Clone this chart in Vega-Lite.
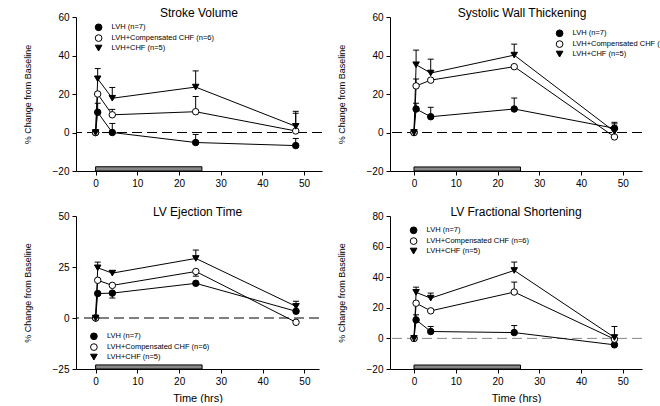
{
  "$schema": "https://vega.github.io/schema/vega-lite/v6.json",
  "padding": {"left": 23, "top": 7, "right": 0, "bottom": 0},
  "config": {
    "view": {"stroke": null},
    "font": "Liberation Sans",
    "axis": {"grid": false, "domainColor": "black", "tickColor": "black", "labelColor": "black", "titleColor": "black", "labelFont": "Liberation Sans", "titleFont": "Liberation Sans", "labelFontSize": 10, "tickSize": 4, "titleFontWeight": "normal", "labelFlush": false, "labelOverlap": false, "domainWidth": 1, "tickWidth": 1, "tickCount": 20},
    "title": {"font": "Liberation Sans", "fontSize": 12, "fontWeight": "normal", "color": "black", "frame": "group", "offset": -8, "baseline": "alphabetic"},
    "legend": {"orient": "none", "symbolSize": 45, "symbolStrokeWidth": 1, "labelFont": "Liberation Sans", "labelFontSize": 7.5, "labelColor": "black", "labelOffset": 9, "rowPadding": -1.2, "padding": 0, "symbolOpacity": 1}
  },
  "datasets": {
    "pts": [
      {"p": "SV", "g": "LVH (n=7)", "t": 0, "v": 0},
      {"p": "SV", "g": "LVH (n=7)", "t": 0.5, "v": 10.5},
      {"p": "SV", "g": "LVH (n=7)", "t": 4, "v": 0},
      {"p": "SV", "g": "LVH (n=7)", "t": 24, "v": -5.2},
      {"p": "SV", "g": "LVH (n=7)", "t": 48, "v": -6.8},
      {"p": "SV", "g": "LVH+Compensated CHF (n=6)", "t": 0, "v": 0},
      {"p": "SV", "g": "LVH+Compensated CHF (n=6)", "t": 0.5, "v": 20},
      {"p": "SV", "g": "LVH+Compensated CHF (n=6)", "t": 4, "v": 9.2},
      {"p": "SV", "g": "LVH+Compensated CHF (n=6)", "t": 24, "v": 10.8},
      {"p": "SV", "g": "LVH+Compensated CHF (n=6)", "t": 48, "v": 0.8},
      {"p": "SV", "g": "LVH+CHF (n=5)", "t": 0, "v": 0},
      {"p": "SV", "g": "LVH+CHF (n=5)", "t": 0.5, "v": 27.9},
      {"p": "SV", "g": "LVH+CHF (n=5)", "t": 4, "v": 17.8},
      {"p": "SV", "g": "LVH+CHF (n=5)", "t": 24, "v": 23.6},
      {"p": "SV", "g": "LVH+CHF (n=5)", "t": 48, "v": 3.2},
      {"p": "SWT", "g": "LVH (n=7)", "t": 0, "v": 0},
      {"p": "SWT", "g": "LVH (n=7)", "t": 0.5, "v": 12.2},
      {"p": "SWT", "g": "LVH (n=7)", "t": 4, "v": 8.2},
      {"p": "SWT", "g": "LVH (n=7)", "t": 24, "v": 12.2},
      {"p": "SWT", "g": "LVH (n=7)", "t": 48, "v": 2.2},
      {"p": "SWT", "g": "LVH+Compensated CHF (n=6)", "t": 0, "v": 0},
      {"p": "SWT", "g": "LVH+Compensated CHF (n=6)", "t": 0.5, "v": 24.2},
      {"p": "SWT", "g": "LVH+Compensated CHF (n=6)", "t": 4, "v": 27.2},
      {"p": "SWT", "g": "LVH+Compensated CHF (n=6)", "t": 24, "v": 34.2},
      {"p": "SWT", "g": "LVH+Compensated CHF (n=6)", "t": 48, "v": -2.3},
      {"p": "SWT", "g": "LVH+CHF (n=5)", "t": 0, "v": 0},
      {"p": "SWT", "g": "LVH+CHF (n=5)", "t": 0.5, "v": 35.2},
      {"p": "SWT", "g": "LVH+CHF (n=5)", "t": 4, "v": 30.9},
      {"p": "SWT", "g": "LVH+CHF (n=5)", "t": 24, "v": 40.2},
      {"p": "SWT", "g": "LVH+CHF (n=5)", "t": 48, "v": 0.5},
      {"p": "ET", "g": "LVH (n=7)", "t": 0, "v": 0},
      {"p": "ET", "g": "LVH (n=7)", "t": 0.5, "v": 12},
      {"p": "ET", "g": "LVH (n=7)", "t": 4, "v": 12.2},
      {"p": "ET", "g": "LVH (n=7)", "t": 24, "v": 17},
      {"p": "ET", "g": "LVH (n=7)", "t": 48, "v": 3.3},
      {"p": "ET", "g": "LVH+Compensated CHF (n=6)", "t": 0, "v": 0},
      {"p": "ET", "g": "LVH+Compensated CHF (n=6)", "t": 0.5, "v": 18.5},
      {"p": "ET", "g": "LVH+Compensated CHF (n=6)", "t": 4, "v": 16},
      {"p": "ET", "g": "LVH+Compensated CHF (n=6)", "t": 24, "v": 22.8},
      {"p": "ET", "g": "LVH+Compensated CHF (n=6)", "t": 48, "v": -2.1},
      {"p": "ET", "g": "LVH+CHF (n=5)", "t": 0, "v": 0},
      {"p": "ET", "g": "LVH+CHF (n=5)", "t": 0.5, "v": 24.6},
      {"p": "ET", "g": "LVH+CHF (n=5)", "t": 4, "v": 22},
      {"p": "ET", "g": "LVH+CHF (n=5)", "t": 24, "v": 29.2},
      {"p": "ET", "g": "LVH+CHF (n=5)", "t": 48, "v": 5.7},
      {"p": "FS", "g": "LVH (n=7)", "t": 0, "v": 0},
      {"p": "FS", "g": "LVH (n=7)", "t": 0.5, "v": 12.1},
      {"p": "FS", "g": "LVH (n=7)", "t": 4, "v": 4.5},
      {"p": "FS", "g": "LVH (n=7)", "t": 24, "v": 3.8},
      {"p": "FS", "g": "LVH (n=7)", "t": 48, "v": -4.2},
      {"p": "FS", "g": "LVH+Compensated CHF (n=6)", "t": 0, "v": 0},
      {"p": "FS", "g": "LVH+Compensated CHF (n=6)", "t": 0.5, "v": 23},
      {"p": "FS", "g": "LVH+Compensated CHF (n=6)", "t": 4, "v": 18},
      {"p": "FS", "g": "LVH+Compensated CHF (n=6)", "t": 24, "v": 30.3},
      {"p": "FS", "g": "LVH+Compensated CHF (n=6)", "t": 48, "v": -0.5},
      {"p": "FS", "g": "LVH+CHF (n=5)", "t": 0, "v": 0},
      {"p": "FS", "g": "LVH+CHF (n=5)", "t": 0.5, "v": 30.1},
      {"p": "FS", "g": "LVH+CHF (n=5)", "t": 4, "v": 26.3},
      {"p": "FS", "g": "LVH+CHF (n=5)", "t": 24, "v": 44.4},
      {"p": "FS", "g": "LVH+CHF (n=5)", "t": 48, "v": 0.6}
    ],
    "errs": [
      {"p": "SV", "t": 0.5, "v": 10.5, "e": 15.2},
      {"p": "SV", "t": 4, "v": 0, "e": 4.7},
      {"p": "SV", "t": 24, "v": -5.2, "e": -1},
      {"p": "SV", "t": 48, "v": -6.8, "e": -3.1},
      {"p": "SV", "t": 4, "v": 9.2, "e": 12},
      {"p": "SV", "t": 24, "v": 10.8, "e": 18.7},
      {"p": "SV", "t": 48, "v": 0.8, "e": 10},
      {"p": "SV", "t": 0.5, "v": 27.9, "e": 33.2},
      {"p": "SV", "t": 4, "v": 17.8, "e": 23.4},
      {"p": "SV", "t": 24, "v": 23.6, "e": 32},
      {"p": "SV", "t": 48, "v": 3.2, "e": 11},
      {"p": "SWT", "t": 0.5, "v": 12.2, "e": 15.2},
      {"p": "SWT", "t": 4, "v": 8.2, "e": 13.1},
      {"p": "SWT", "t": 24, "v": 12.2, "e": 17.9},
      {"p": "SWT", "t": 48, "v": 2.2, "e": 5.3},
      {"p": "SWT", "t": 0.5, "v": 24.2, "e": 27.8},
      {"p": "SWT", "t": 0.5, "v": 35.2, "e": 42.8},
      {"p": "SWT", "t": 4, "v": 30.9, "e": 38.1},
      {"p": "SWT", "t": 24, "v": 40.2, "e": 45.9},
      {"p": "SWT", "t": 48, "v": 0.5, "e": 4.5},
      {"p": "ET", "t": 4, "v": 12.2, "e": 9.8},
      {"p": "ET", "t": 24, "v": 22.8, "e": 20.5},
      {"p": "ET", "t": 0.5, "v": 24.6, "e": 27.4},
      {"p": "ET", "t": 4, "v": 22, "e": 23.2},
      {"p": "ET", "t": 24, "v": 29.2, "e": 33.3},
      {"p": "ET", "t": 48, "v": 5.7, "e": 8.2},
      {"p": "FS", "t": 0.5, "v": 12.1, "e": 15.4},
      {"p": "FS", "t": 4, "v": 4.5, "e": 7.8},
      {"p": "FS", "t": 24, "v": 3.8, "e": 8.4},
      {"p": "FS", "t": 24, "v": 30.3, "e": 36.8},
      {"p": "FS", "t": 0.5, "v": 30.1, "e": 33.5},
      {"p": "FS", "t": 4, "v": 26.3, "e": 29.6},
      {"p": "FS", "t": 24, "v": 44.4, "e": 49.9},
      {"p": "FS", "t": 48, "v": 0.6, "e": 7.8}
    ],
    "hatch": [
      {"p": "SV", "t": 0, "t2": 25.5, "v": -20, "v2": -17.8},
      {"p": "SWT", "t": 0, "t2": 25.5, "v": -20, "v2": -17.9},
      {"p": "ET", "t": 0, "t2": 25.5, "v": -25, "v2": -23},
      {"p": "FS", "t": 0, "t2": 25.5, "v": -20, "v2": -17.4}
    ]
  },
  "columns": 2,
  "spacing": {"row": 45, "column": 68},
  "bounds": "flush",
  "resolve": {"scale": {"x": "independent", "y": "independent", "fill": "independent", "shape": "independent", "stroke": "independent"}, "legend": {"fill": "independent", "shape": "independent", "stroke": "independent"}},
  "concat": [
    {
      "width": 246, "height": 154,
      "title": {"text": "Stroke Volume", "fontWeight": "normal"},
      "layer": [
        {"data": {"name": "hatch"}, "transform": [{"filter": "datum.p === 'SV'"}],
         "mark": {"type": "rect", "fill": "#888888", "stroke": "black", "strokeWidth": 1},
         "encoding": {
           "x": {"field": "t", "type": "quantitative", "scale": {"domain": [-4.7, 54.3], "nice": false, "zero": false}, "axis": {"values": [0, 10, 20, 30, 40, 50], "tickCount": 20, "title": null, "labelPadding": 3, "labelOverlap": false}},
           "x2": {"field": "t2"},
           "y": {"field": "v", "type": "quantitative", "scale": {"domain": [-20, 60], "nice": false, "zero": false}, "axis": {"values": [-20, 0, 20, 40, 60], "tickCount": 20, "title": "% Change from Baseline", "titleFontSize": 9, "titleColor": "black", "titlePadding": 20, "labelPadding": 3, "labelOverlap": false}},
           "y2": {"field": "v2"}}},
        {"data": {"name": "hatch"}, "transform": [{"filter": "datum.p === 'SV'"}],
         "mark": {"type": "rule", "strokeDash": [10, 5], "color": "black", "strokeWidth": 1},
         "encoding": {"y": {"datum": 0, "type": "quantitative"}}},
        {"data": {"name": "pts"}, "transform": [{"filter": "datum.p === 'SV'"}],
         "mark": {"type": "line", "color": "black", "strokeWidth": 1},
         "encoding": {"x": {"field": "t", "type": "quantitative"}, "y": {"field": "v", "type": "quantitative"}, "detail": {"field": "g"}}},
        {"data": {"name": "errs"}, "transform": [{"filter": "datum.p === 'SV'"}],
         "mark": {"type": "rule", "color": "black", "strokeWidth": 1},
         "encoding": {"x": {"field": "t", "type": "quantitative"}, "y": {"field": "v", "type": "quantitative"}, "y2": {"field": "e"}}},
        {"data": {"name": "errs"}, "transform": [{"filter": "datum.p === 'SV'"}],
         "mark": {"type": "tick", "orient": "horizontal", "color": "black", "size": 6, "thickness": 1, "opacity": 1},
         "encoding": {"x": {"field": "t", "type": "quantitative"}, "y": {"field": "e", "type": "quantitative"}}},
        {"data": {"name": "pts"}, "transform": [{"filter": "datum.p === 'SV'"}],
         "mark": {"type": "point", "filled": true, "strokeWidth": 1, "opacity": 1, "size": 42},
         "encoding": {
           "x": {"field": "t", "type": "quantitative"}, "y": {"field": "v", "type": "quantitative"},
           "shape": {"field": "g", "type": "nominal", "scale": {"domain": ["LVH (n=7)", "LVH+Compensated CHF (n=6)", "LVH+CHF (n=5)"], "range": ["circle", "circle", "triangle-down"]},
             "legend": {"title": null, "legendX": 18.6, "legendY": 6.3}},
           "fill": {"field": "g", "type": "nominal", "scale": {"domain": ["LVH (n=7)", "LVH+Compensated CHF (n=6)", "LVH+CHF (n=5)"], "range": ["black", "white", "black"]},
             "legend": {"title": null, "legendX": 18.6, "legendY": 6.3}},
           "stroke": {"field": "g", "type": "nominal", "scale": {"domain": ["LVH (n=7)", "LVH+Compensated CHF (n=6)", "LVH+CHF (n=5)"], "range": ["black", "black", "black"]},
             "legend": {"title": null, "legendX": 18.6, "legendY": 6.3}}}}
      ]
    },
    {
      "width": 252, "height": 154,
      "title": {"text": "Systolic Wall Thickening", "dx": 6, "fontWeight": "normal"},
      "layer": [
        {"data": {"name": "hatch"}, "transform": [{"filter": "datum.p === 'SWT'"}],
         "mark": {"type": "rect", "fill": "#888888", "stroke": "black", "strokeWidth": 1},
         "encoding": {
           "x": {"field": "t", "type": "quantitative", "scale": {"domain": [-5.75, 54.6], "nice": false, "zero": false}, "axis": {"values": [0, 10, 20, 30, 40, 50], "tickCount": 20, "title": null, "labelPadding": 3, "labelOverlap": false}},
           "x2": {"field": "t2"},
           "y": {"field": "v", "type": "quantitative", "scale": {"domain": [-20, 60], "nice": false, "zero": false}, "axis": {"values": [-20, 0, 20, 40, 60], "tickCount": 20, "title": "% Change from Baseline", "titleFontSize": 9, "titleColor": "black", "titlePadding": 20, "labelPadding": 3, "labelOverlap": false}},
           "y2": {"field": "v2"}}},
        {"data": {"name": "hatch"}, "transform": [{"filter": "datum.p === 'SWT'"}],
         "mark": {"type": "rule", "strokeDash": [10, 5], "color": "black", "strokeWidth": 1},
         "encoding": {"y": {"datum": 0, "type": "quantitative"}}},
        {"data": {"name": "pts"}, "transform": [{"filter": "datum.p === 'SWT'"}],
         "mark": {"type": "line", "color": "black", "strokeWidth": 1},
         "encoding": {"x": {"field": "t", "type": "quantitative"}, "y": {"field": "v", "type": "quantitative"}, "detail": {"field": "g"}}},
        {"data": {"name": "errs"}, "transform": [{"filter": "datum.p === 'SWT'"}],
         "mark": {"type": "rule", "color": "black", "strokeWidth": 1},
         "encoding": {"x": {"field": "t", "type": "quantitative"}, "y": {"field": "v", "type": "quantitative"}, "y2": {"field": "e"}}},
        {"data": {"name": "errs"}, "transform": [{"filter": "datum.p === 'SWT'"}],
         "mark": {"type": "tick", "orient": "horizontal", "color": "black", "size": 6, "thickness": 1, "opacity": 1},
         "encoding": {"x": {"field": "t", "type": "quantitative"}, "y": {"field": "e", "type": "quantitative"}}},
        {"data": {"name": "pts"}, "transform": [{"filter": "datum.p === 'SWT'"}],
         "mark": {"type": "point", "filled": true, "strokeWidth": 1, "opacity": 1, "size": 42},
         "encoding": {
           "x": {"field": "t", "type": "quantitative"}, "y": {"field": "v", "type": "quantitative"},
           "shape": {"field": "g", "type": "nominal", "scale": {"domain": ["LVH (n=7)", "LVH+Compensated CHF (n=6)", "LVH+CHF (n=5)"], "range": ["circle", "circle", "triangle-down"]},
             "legend": {"title": null, "legendX": 165.6, "legendY": 12.3}},
           "fill": {"field": "g", "type": "nominal", "scale": {"domain": ["LVH (n=7)", "LVH+Compensated CHF (n=6)", "LVH+CHF (n=5)"], "range": ["black", "white", "black"]},
             "legend": {"title": null, "legendX": 165.6, "legendY": 12.3}},
           "stroke": {"field": "g", "type": "nominal", "scale": {"domain": ["LVH (n=7)", "LVH+Compensated CHF (n=6)", "LVH+CHF (n=5)"], "range": ["black", "black", "black"]},
             "legend": {"title": null, "legendX": 165.6, "legendY": 12.3}}}}
      ]
    },
    {
      "width": 243, "height": 153,
      "title": {"text": "LV Ejection Time", "fontWeight": "normal"},
      "layer": [
        {"data": {"name": "hatch"}, "transform": [{"filter": "datum.p === 'ET'"}],
         "mark": {"type": "rect", "fill": "#888888", "stroke": "black", "strokeWidth": 1},
         "encoding": {
           "x": {"field": "t", "type": "quantitative", "scale": {"domain": [-4.7, 53.5], "nice": false, "zero": false}, "axis": {"values": [0, 10, 20, 30, 40, 50], "tickCount": 20, "title": "Time (hrs)", "titleFontSize": 11, "titleColor": "black", "titlePadding": 6, "labelPadding": 3, "labelOverlap": false}},
           "x2": {"field": "t2"},
           "y": {"field": "v", "type": "quantitative", "scale": {"domain": [-25, 50], "nice": false, "zero": false}, "axis": {"values": [-25, 0, 25, 50], "tickCount": 20, "title": "% Change from Baseline", "titleFontSize": 9, "titleColor": "black", "titlePadding": 20, "labelPadding": 3, "labelOverlap": false}},
           "y2": {"field": "v2"}}},
        {"data": {"name": "hatch"}, "transform": [{"filter": "datum.p === 'ET'"}],
         "mark": {"type": "rule", "strokeDash": [10, 5], "color": "black", "strokeWidth": 1},
         "encoding": {"y": {"datum": 0, "type": "quantitative"}}},
        {"data": {"name": "pts"}, "transform": [{"filter": "datum.p === 'ET'"}],
         "mark": {"type": "line", "color": "black", "strokeWidth": 1},
         "encoding": {"x": {"field": "t", "type": "quantitative"}, "y": {"field": "v", "type": "quantitative"}, "detail": {"field": "g"}}},
        {"data": {"name": "errs"}, "transform": [{"filter": "datum.p === 'ET'"}],
         "mark": {"type": "rule", "color": "black", "strokeWidth": 1},
         "encoding": {"x": {"field": "t", "type": "quantitative"}, "y": {"field": "v", "type": "quantitative"}, "y2": {"field": "e"}}},
        {"data": {"name": "errs"}, "transform": [{"filter": "datum.p === 'ET'"}],
         "mark": {"type": "tick", "orient": "horizontal", "color": "black", "size": 6, "thickness": 1, "opacity": 1},
         "encoding": {"x": {"field": "t", "type": "quantitative"}, "y": {"field": "e", "type": "quantitative"}}},
        {"data": {"name": "pts"}, "transform": [{"filter": "datum.p === 'ET'"}],
         "mark": {"type": "point", "filled": true, "strokeWidth": 1, "opacity": 1, "size": 42},
         "encoding": {
           "x": {"field": "t", "type": "quantitative"}, "y": {"field": "v", "type": "quantitative"},
           "shape": {"field": "g", "type": "nominal", "scale": {"domain": ["LVH (n=7)", "LVH+Compensated CHF (n=6)", "LVH+CHF (n=5)"], "range": ["circle", "circle", "triangle-down"]},
             "legend": {"title": null, "legendX": 13.9, "legendY": 116.3}},
           "fill": {"field": "g", "type": "nominal", "scale": {"domain": ["LVH (n=7)", "LVH+Compensated CHF (n=6)", "LVH+CHF (n=5)"], "range": ["black", "white", "black"]},
             "legend": {"title": null, "legendX": 13.9, "legendY": 116.3}},
           "stroke": {"field": "g", "type": "nominal", "scale": {"domain": ["LVH (n=7)", "LVH+Compensated CHF (n=6)", "LVH+CHF (n=5)"], "range": ["black", "black", "black"]},
             "legend": {"title": null, "legendX": 13.9, "legendY": 116.3}}}}
      ]
    },
    {
      "width": 252, "height": 153,
      "title": {"text": "LV Fractional Shortening", "fontWeight": "normal"},
      "layer": [
        {"data": {"name": "hatch"}, "transform": [{"filter": "datum.p === 'FS'"}],
         "mark": {"type": "rect", "fill": "#888888", "stroke": "black", "strokeWidth": 1},
         "encoding": {
           "x": {"field": "t", "type": "quantitative", "scale": {"domain": [-5.75, 54.6], "nice": false, "zero": false}, "axis": {"values": [0, 10, 20, 30, 40, 50], "tickCount": 20, "title": "Time (hrs)", "titleFontSize": 11, "titleColor": "black", "titlePadding": 6, "labelPadding": 3, "labelOverlap": false}},
           "x2": {"field": "t2"},
           "y": {"field": "v", "type": "quantitative", "scale": {"domain": [-20, 80], "nice": false, "zero": false}, "axis": {"values": [-20, 0, 20, 40, 60, 80], "tickCount": 20, "title": "% Change from Baseline", "titleFontSize": 9, "titleColor": "black", "titlePadding": 20, "labelPadding": 3, "labelOverlap": false}},
           "y2": {"field": "v2"}}},
        {"data": {"name": "hatch"}, "transform": [{"filter": "datum.p === 'FS'"}],
         "mark": {"type": "rule", "strokeDash": [10, 5], "color": "#888888", "strokeWidth": 1},
         "encoding": {"y": {"datum": 0, "type": "quantitative"}}},
        {"data": {"name": "pts"}, "transform": [{"filter": "datum.p === 'FS'"}],
         "mark": {"type": "line", "color": "black", "strokeWidth": 1},
         "encoding": {"x": {"field": "t", "type": "quantitative"}, "y": {"field": "v", "type": "quantitative"}, "detail": {"field": "g"}}},
        {"data": {"name": "errs"}, "transform": [{"filter": "datum.p === 'FS'"}],
         "mark": {"type": "rule", "color": "black", "strokeWidth": 1},
         "encoding": {"x": {"field": "t", "type": "quantitative"}, "y": {"field": "v", "type": "quantitative"}, "y2": {"field": "e"}}},
        {"data": {"name": "errs"}, "transform": [{"filter": "datum.p === 'FS'"}],
         "mark": {"type": "tick", "orient": "horizontal", "color": "black", "size": 6, "thickness": 1, "opacity": 1},
         "encoding": {"x": {"field": "t", "type": "quantitative"}, "y": {"field": "e", "type": "quantitative"}}},
        {"data": {"name": "pts"}, "transform": [{"filter": "datum.p === 'FS'"}],
         "mark": {"type": "point", "filled": true, "strokeWidth": 1, "opacity": 1, "size": 42},
         "encoding": {
           "x": {"field": "t", "type": "quantitative"}, "y": {"field": "v", "type": "quantitative"},
           "shape": {"field": "g", "type": "nominal", "scale": {"domain": ["LVH (n=7)", "LVH+Compensated CHF (n=6)", "LVH+CHF (n=5)"], "range": ["circle", "circle", "triangle-down"]},
             "legend": {"title": null, "legendX": 19.6, "legendY": 10.3}},
           "fill": {"field": "g", "type": "nominal", "scale": {"domain": ["LVH (n=7)", "LVH+Compensated CHF (n=6)", "LVH+CHF (n=5)"], "range": ["black", "white", "black"]},
             "legend": {"title": null, "legendX": 19.6, "legendY": 10.3}},
           "stroke": {"field": "g", "type": "nominal", "scale": {"domain": ["LVH (n=7)", "LVH+Compensated CHF (n=6)", "LVH+CHF (n=5)"], "range": ["black", "black", "black"]},
             "legend": {"title": null, "legendX": 19.6, "legendY": 10.3}}}}
      ]
    }
  ]
}
